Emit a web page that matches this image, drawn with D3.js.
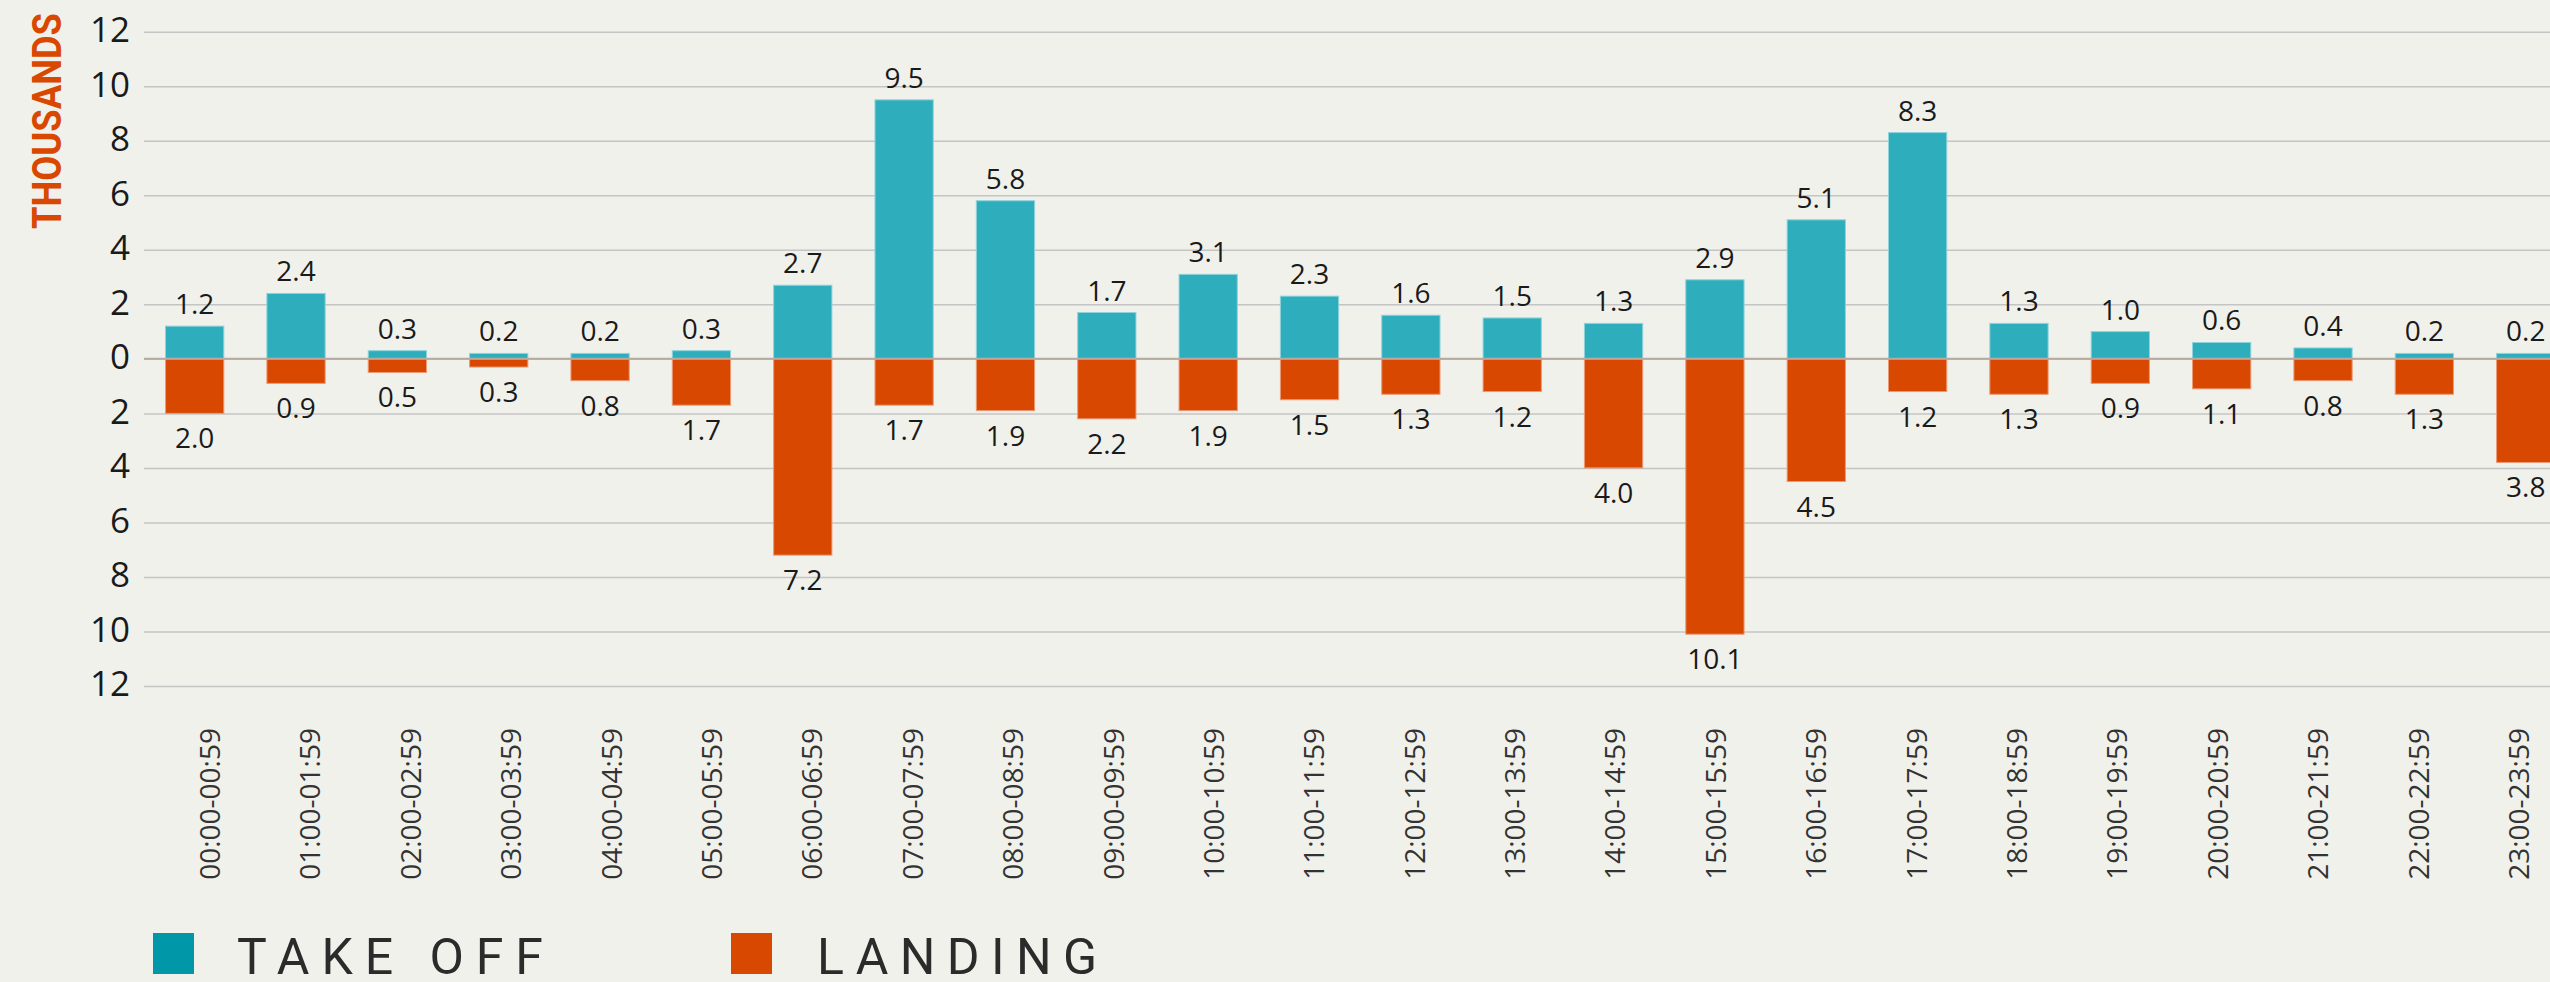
<!DOCTYPE html>
<html lang="en">
<head>
<meta charset="UTF-8">
<title>Take off / landing by hour</title>
<script src="https://cdn.jsdelivr.net/npm/d3@7"></script>
<style>
  html, body { margin: 0; padding: 0; background: #f1f1ec; }
  svg { display: block; }
  .grid line { stroke: #c4c4c4; stroke-width: 1.5; }
  .grid text { font-family: "Open Sans", sans-serif; font-size: 35px; fill: #1a1a1a; }
  .xaxis text { font-family: "Open Sans", sans-serif; font-size: 28px; fill: #333; }
  .val { font-family: "Open Sans", sans-serif; font-size: 28px; fill: #1a1a1a; text-anchor: middle; }
  .legend text { font-family: Roboto, sans-serif; font-size: 50px; fill: #2b2b2b; }
</style>
</head>
<body>
<svg width="2550" height="982"></svg>
<script>
// hourly slots
const hours = ["00:00-00:59","01:00-01:59","02:00-02:59","03:00-03:59","04:00-04:59","05:00-05:59",
  "06:00-06:59","07:00-07:59","08:00-08:59","09:00-09:59","10:00-10:59","11:00-11:59",
  "12:00-12:59","13:00-13:59","14:00-14:59","15:00-15:59","16:00-16:59","17:00-17:59",
  "18:00-18:59","19:00-19:59","20:00-20:59","21:00-21:59","22:00-22:59","23:00-23:59"];

// thousands
const takeOff = [1.2, 2.4, 0.3, 0.2, 0.2, 0.3, 2.7, 9.5, 5.8, 1.7, 3.1, 2.3,
  1.6, 1.5, 1.3, 2.9, 5.1, 8.3, 1.3, 1.0, 0.6, 0.4, 0.2, 0.2];
const landing = [2.0, 0.9, 0.5, 0.3, 0.8, 1.7, 7.2, 1.7, 1.9, 2.2, 1.9, 1.5,
  1.3, 1.2, 4.0, 10.1, 4.5, 1.2, 1.3, 0.9, 1.1, 0.8, 1.3, 3.8];

const yTicks = [-12, -10, -8, -6, -4, -2, 0, 2, 4, 6, 8, 10, 12];
const legendLabels = ["TAKE OFF", "LANDING"];

const svg = d3.select("svg");
const W = 2550;
const left = 144, step = 101.35;

const x = d3.scaleBand()
  .domain(hours)
  .range([left, left + step * hours.length])
  .paddingInner(0.425)
  .paddingOuter(0.2125);

// the hour labels sit on a slightly tighter spacing than the bars
const xLabel = d3.scalePoint()
  .domain(hours)
  .range([209.5, 2518.5]);

const y = d3.scaleLinear().domain([-12, 12]).range([686, 31.7]);

// grid + y labels
const gy = svg.append("g")
  .attr("class", "grid")
  .attr("transform", `translate(${left},0)`)
  .call(d3.axisLeft(y)
    .tickValues(yTicks)
    .tickSize(-(W - left))
    .tickPadding(14)
    .tickFormat(d => Math.abs(d)));
gy.select(".domain").remove();
gy.selectAll("text").attr("dy", "0.28em");

// y title
svg.append("text")
  .attr("transform", "translate(61,121) rotate(-90)")
  .attr("text-anchor", "middle")
  .attr("textLength", 216)
  .attr("lengthAdjust", "spacingAndGlyphs")
  .style("font-family", "Roboto, sans-serif")
  .style("font-weight", "bold")
  .style("font-size", "40px")
  .style("fill", "#d94800")
  .text("THOUSANDS");

// bars
svg.append("g").selectAll("rect")
  .data(takeOff)
  .join("rect")
  .attr("x", (d, i) => x(hours[i]))
  .attr("width", x.bandwidth())
  .attr("y", d => y(d))
  .attr("height", d => y(0) - y(d))
  .attr("fill", "#2eaebc")
  .attr("stroke", "#8fd3da")
  .attr("stroke-width", 1);

svg.append("g").selectAll("rect")
  .data(landing)
  .join("rect")
  .attr("x", (d, i) => x(hours[i]))
  .attr("width", x.bandwidth())
  .attr("y", y(0))
  .attr("height", d => y(-d) - y(0))
  .attr("fill", "#d94800")
  .attr("stroke", "#ec9a74")
  .attr("stroke-width", 1);

// zero line over the bars
svg.append("line")
  .attr("x1", left).attr("x2", W)
  .attr("y1", y(0)).attr("y2", y(0))
  .attr("stroke", "#b8aaa0")
  .attr("stroke-width", 2);

// value labels
svg.append("g").selectAll("text")
  .data(takeOff)
  .join("text")
  .attr("class", "val")
  .attr("x", (d, i) => x(hours[i]) + x.bandwidth() / 2)
  .attr("y", d => y(d) - 12)
  .text(d => d.toFixed(1));

svg.append("g").selectAll("text")
  .data(landing)
  .join("text")
  .attr("class", "val")
  .attr("x", (d, i) => x(hours[i]) + x.bandwidth() / 2)
  .attr("y", d => y(-d) + 35)
  .text(d => d.toFixed(1));

// x axis labels, rotated
const gx = svg.append("g")
  .attr("class", "xaxis")
  .attr("transform", "translate(0,728)")
  .call(d3.axisBottom(xLabel).tickSize(0));
gx.select(".domain").remove();
gx.selectAll("text")
  .attr("x", 0).attr("y", 0).attr("dy", null)
  .attr("text-anchor", "end")
  .attr("transform", "translate(10,0) rotate(-90)");

// legend
const legendColors = ["#0098a8", "#d94800"];
const legendX = [153, 731];
const textX = [237, 817];
const textW = [306, 280];
const lg = svg.append("g").attr("class", "legend");
legendLabels.forEach((name, i) => {
  lg.append("rect")
    .attr("x", legendX[i]).attr("y", 933)
    .attr("width", 41).attr("height", 41)
    .attr("fill", legendColors[i]);
  lg.append("text")
    .attr("x", textX[i]).attr("y", 974)
    .attr("textLength", textW[i])
    .attr("lengthAdjust", "spacing")
    .text(name);
});
</script>
</body>
</html>
